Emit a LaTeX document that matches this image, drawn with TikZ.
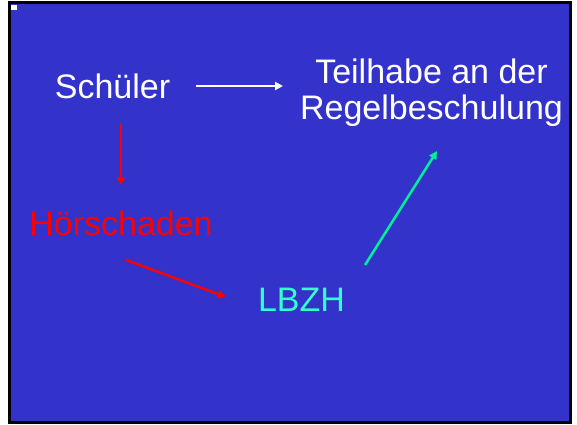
\documentclass[tikz,border=0pt]{standalone}
\usepackage{fontspec}
\setmainfont{Liberation Sans}
\usetikzlibrary{arrows.meta}
\definecolor{bgblue}{RGB}{51,51,204}
\definecolor{lbzh}{RGB}{51,255,204}
\definecolor{garrow}{RGB}{0,240,150}
\begin{document}
\begin{tikzpicture}[x=1pt,y=1pt,
  lbl/.style={font=\fontsize{34}{36}\selectfont, inner sep=0pt, anchor=base},
  conn/.style={line width=2.5pt, -{Triangle[length=8pt,width=8pt]}}]
\useasboundingbox (0,0) rectangle (577,424);
\path[fill=bgblue, draw=black, line width=3pt] (9.5,1.5) rectangle (570.5,421.5);
\fill[white] (11,414) rectangle (17,419);
\node[lbl, text=white] (schueler) at (112.5,326) {Schüler};
\node[lbl, text=white, align=center] (teil) at (431.5,305) {Teilhabe an der\\Regelbeschulung};
\node[lbl, text=red] (hoer) at (121,189) {Hörschaden};
\node[lbl, text=lbzh] (lbzh) at (301.5,113) {LBZH};
\coordinate (w1) at (196,338);
\coordinate (w2) at (283,338);
\coordinate (r1) at (121,300);
\coordinate (r2) at (121,239);
\coordinate (d1) at (126,164);
\coordinate (d2) at (226,127);
\coordinate (g1) at (365,159);
\coordinate (g2) at (437,273);
\draw[conn, white, line width=2pt] (w1) -- (w2);
\draw[conn, red] (r1) -- (r2);
\draw[conn, red] (d1) -- (d2);
\draw[conn, garrow] (g1) -- (g2);
\end{tikzpicture}
\end{document}
